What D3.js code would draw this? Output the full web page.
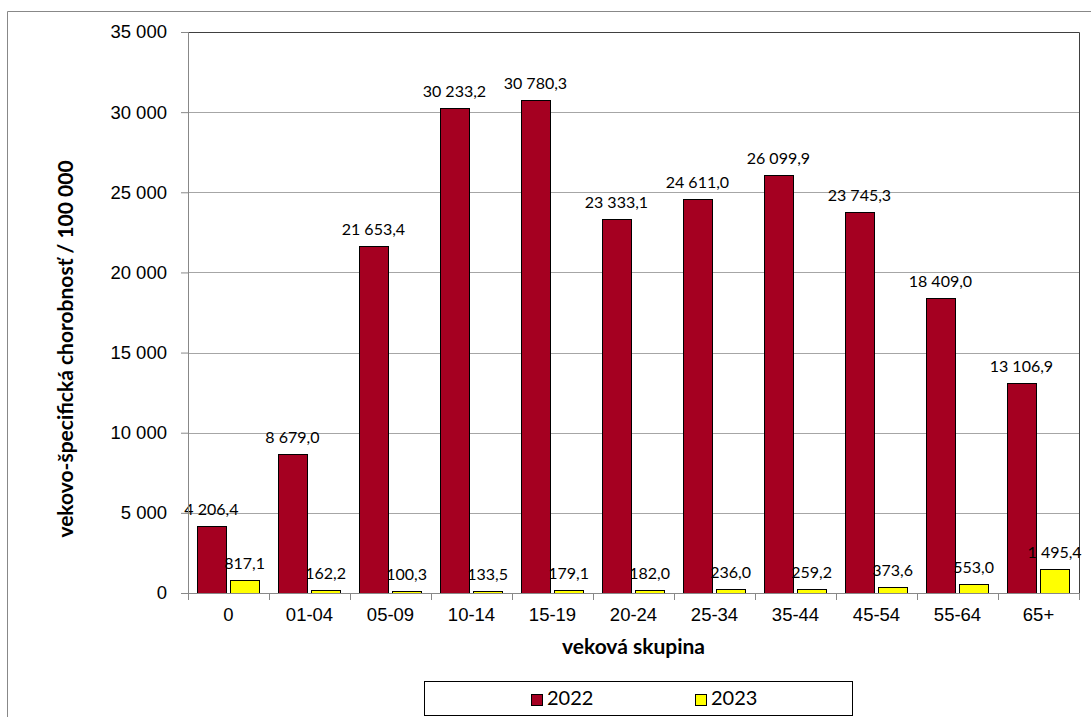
<!DOCTYPE html>
<html>
<head>
<meta charset="utf-8">
<script src="https://cdn.jsdelivr.net/npm/d3@7"></script>
<style>
  body { margin: 0; background: #fff; }
  svg { display: block; font-family: Lato, "Open Sans", sans-serif; }
</style>
</head>
<body>
<div id="chart"></div>
<script>
// data
var categories = ["0", "01-04", "05-09", "10-14", "15-19", "20-24", "25-34", "35-44", "45-54", "55-64", "65+"];
var series = ["2022", "2023"];
var values2022 = [4206.4, 8679.0, 21653.4, 30233.2, 30780.3, 23333.1, 24611.0, 26099.9, 23745.3, 18409.0, 13106.9];
var values2023 = [817.1, 162.2, 100.3, 133.5, 179.1, 182.0, 236.0, 259.2, 373.6, 553.0, 1495.4];
var yTicks = [0, 5000, 10000, 15000, 20000, 25000, 30000, 35000];
var colors = {"2022": "#a50021", "2023": "#ffff00"};

var width = 1091,
    height = 717,
    margin = {top: 32, right: 12, bottom: 124, left: 188},
    innerWidth = width - margin.left - margin.right,
    innerHeight = height - margin.top - margin.bottom;

var loc = d3.formatLocale({decimal: ",", thousands: " ", grouping: [3]});
var fmtTick = loc.format(",.0f"),
    fmtVal = loc.format(",.1f");

var svg = d3.select("#chart").append("svg")
    .attr("width", width)
    .attr("height", height);

// outer frame (only left and top visible)
svg.append("path")
    .attr("d", "M7.5," + height + "V11.5H" + width)
    .attr("fill", "none").attr("stroke", "#888");

var g = svg.append("g")
    .attr("transform", "translate(" + margin.left + "," + margin.top + ")");

var xScale = d3.scaleBand().domain(categories).range([0, innerWidth]);
var xInner = d3.scaleBand().domain(series).range([9, xScale.bandwidth() - 10]).paddingInner(0.13);
var yScale = d3.scaleLinear().domain([0, 35000]).range([innerHeight, 0]);

// gridlines
g.selectAll(".grid")
  .data(yTicks.slice(1))
  .enter().append("line")
    .attr("class", "grid")
    .attr("x1", 0).attr("x2", innerWidth)
    .attr("y1", function(d) { return Math.round(yScale(d)) + 0.5; })
    .attr("y2", function(d) { return Math.round(yScale(d)) + 0.5; })
    .attr("stroke", "#a6a6a6");

// plot border top / right
g.append("path")
    .attr("d", "M0.5,0.5H" + (innerWidth + 0.5) + "V" + innerHeight)
    .attr("fill", "none").attr("stroke", "#404040");

// bars
var rows = categories.map(function(c, i) {
  return {cat: c, vals: [{s: "2022", v: values2022[i]}, {s: "2023", v: values2023[i]}]};
});

var groups = g.selectAll(".grp")
  .data(rows)
  .enter().append("g")
    .attr("class", "grp")
    .attr("transform", function(d) { return "translate(" + xScale(d.cat) + ",0)"; });

groups.selectAll("rect")
  .data(function(d) { return d.vals; })
  .enter().append("rect")
    .attr("x", function(d) { return Math.round(xInner(d.s)) + 0.5; })
    .attr("y", function(d) { return Math.round(yScale(d.v)) + 0.5; })
    .attr("width", Math.round(xInner.bandwidth()))
    .attr("height", function(d) { return Math.max(2, Math.round(innerHeight - yScale(d.v))); })
    .attr("fill", function(d) { return colors[d.s]; })
    .attr("stroke", "#000")
    .attr("stroke-width", 1);

groups.selectAll(".lbl")
  .data(function(d) { return d.vals; })
  .enter().append("text")
    .attr("class", "lbl")
    .attr("x", function(d) { return xInner(d.s) + xInner.bandwidth() / 2; })
    .attr("y", function(d) { return yScale(d.v) - 11; })
    .attr("text-anchor", "middle")
    .attr("font-size", "16px")
    .attr("fill", "#000")
    .text(function(d) { return fmtVal(d.v); });

// axes
var yAxis = g.append("g")
    .call(d3.axisLeft(yScale).tickValues(yTicks).tickSize(7).tickPadding(14).tickFormat(fmtTick));
yAxis.select(".domain").attr("stroke", "#888");
yAxis.selectAll(".tick line").attr("stroke", "#888");
yAxis.selectAll("text").attr("font-size", "18.5px").attr("fill", "#000").attr("font-family", null);

var xAxis = g.append("g")
    .attr("transform", "translate(0," + innerHeight + ")")
    .call(d3.axisBottom(xScale).tickSize(0));
xAxis.select(".domain").attr("stroke", "#888");
xAxis.selectAll("text")
    .attr("y", 28).attr("dy", null)
    .attr("font-size", "18.5px").attr("fill", "#000").attr("font-family", null);
xAxis.selectAll(".sep")
  .data(categories.concat(["end"]))
  .enter().append("line")
    .attr("class", "sep")
    .attr("x1", function(d, i) { return Math.round(i * xScale.step()) + 0.5; })
    .attr("x2", function(d, i) { return Math.round(i * xScale.step()) + 0.5; })
    .attr("y1", 0).attr("y2", 7)
    .attr("stroke", "#888");

// axis titles
svg.append("text")
    .attr("x", margin.left + innerWidth / 2)
    .attr("y", 654)
    .attr("text-anchor", "middle")
    .attr("font-size", "21px")
    .attr("font-weight", "bold")
    .text("veková skupina");

svg.append("text")
    .attr("transform", "translate(73,349) rotate(-90)")
    .attr("text-anchor", "middle")
    .attr("font-size", "21px")
    .attr("font-weight", "bold")
    .text("vekovo-špecifická chorobnosť / 100 000");

// legend
var legend = svg.append("g");
legend.append("rect")
    .attr("x", 424.5).attr("y", 681.5)
    .attr("width", 428).attr("height", 34)
    .attr("fill", "#fff").attr("stroke", "#000");

var legX = [531, 695];
series.forEach(function(s, i) {
  legend.append("rect")
      .attr("x", legX[i] + 0.5).attr("y", 694.5)
      .attr("width", 11).attr("height", 11)
      .attr("fill", colors[s]).attr("stroke", "#000");
  legend.append("text")
      .attr("x", legX[i] + 16).attr("y", 705)
      .attr("font-size", "20px")
      .text(s);
});
</script>
</body>
</html>
